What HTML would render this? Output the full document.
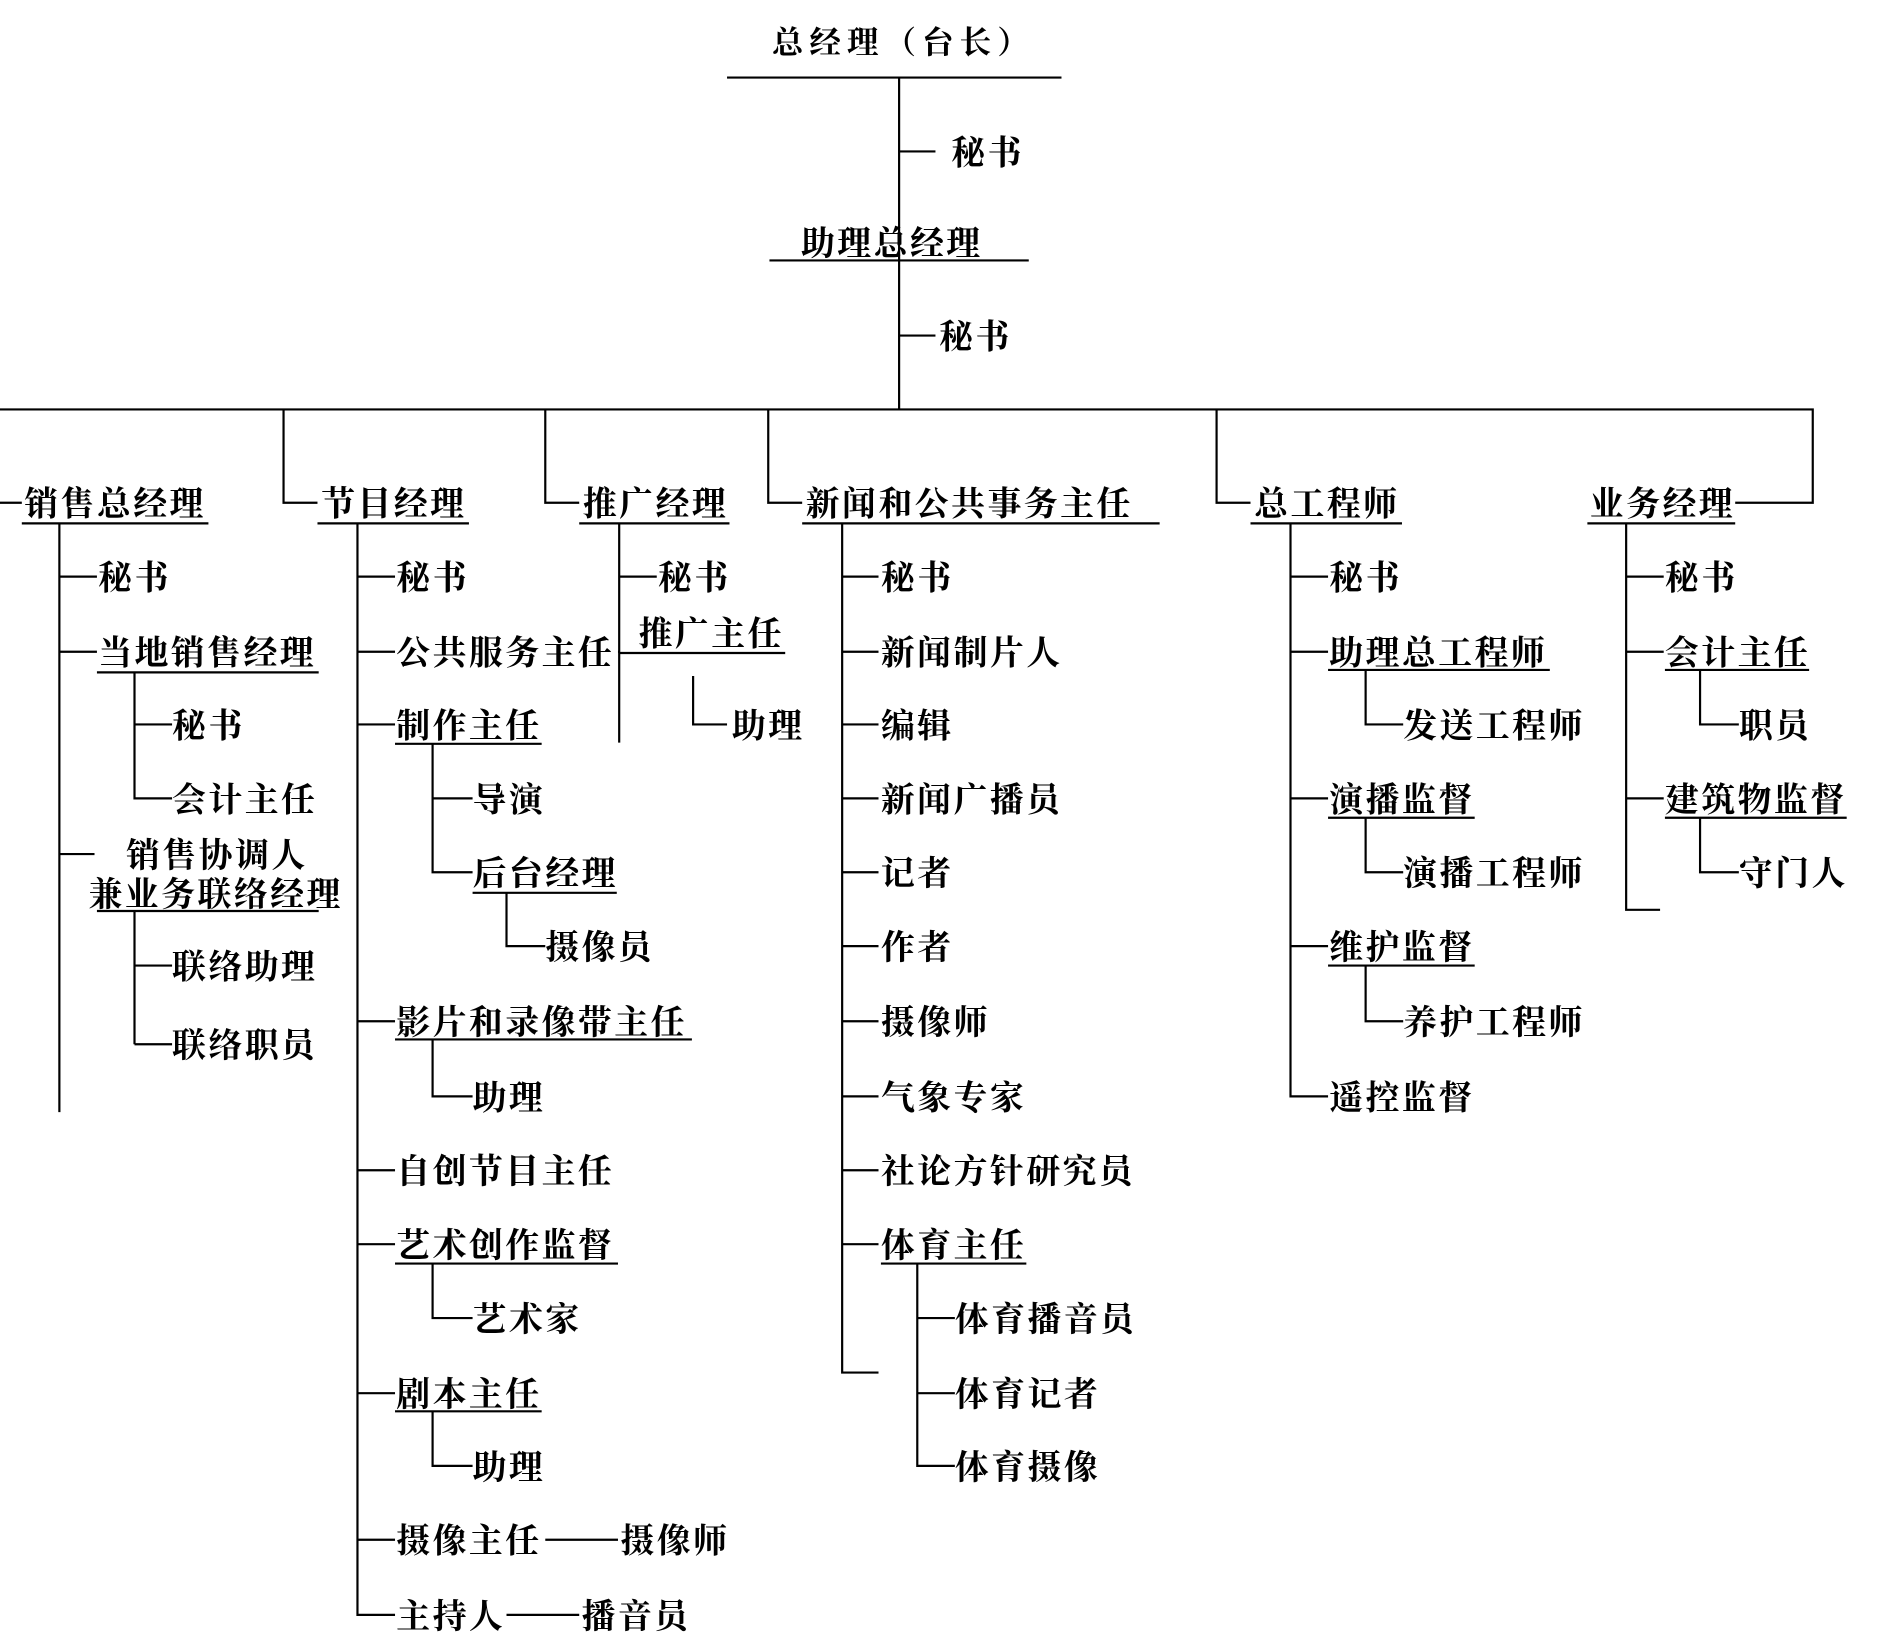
<!DOCTYPE html>
<html><head><meta charset="utf-8"><style>
html,body{margin:0;padding:0;background:#fff;width:1900px;height:1650px;overflow:hidden}
svg text{font-family:"Liberation Serif","Noto Serif CJK SC",serif;font-size:28px;letter-spacing:2px;fill:#000;dominant-baseline:central;font-weight:700}
</style></head><body>
<svg width="1900" height="1650" viewBox="0 0 1568 1362" preserveAspectRatio="none" xmlns="http://www.w3.org/2000/svg">
<g stroke="#000" stroke-width="1.8" fill="none">
<path d="M600 64H876M742 64V338M742 125H772M635 215H849M742 277H772"/>
<path d="M0 338H1496V415H1432M234 338V415H262M450 338V415H478M634 338V415H662M1004 338V415H1032M0 415H18"/>
<path d="M18 432H172M262 432H387M478 432H602M662 432H957M1032 432H1157M1310 432H1432"/>
<path d="M49 432V918M49 476H80M49 538H80M80 555H263M111 555V660M111 598H142M111 659H142M49 705H78M80 752H263M111 752V862M111 797H142M111 862H142"/>
<path d="M295 432V1333H326M295 476H326M295 538H326M510 538H511M295 598H326M326 614H447M357 614V720H390M357 659H390M390 737H509M418 737V781H450M295 843H326M326 858H571M357 858V905H390M295 966H326M295 1027H326M326 1043H510M357 1043V1088H390M295 1150H326M326 1165H447M357 1165V1210H390M295 1271H326M450 1271H510M418 1333H478"/>
<path d="M511 432V613M511 476H542M511 539H648M572 558V598H600"/>
<path d="M695 432V1133H725M695 476H725M695 538H725M695 598H725M695 659H725M695 720H725M695 781H725M695 843H725M695 905H725M695 966H725M695 1027H725M727 1043H847M757 1043V1210H788M757 1088H788M757 1150H788"/>
<path d="M1065 432V905H1096M1065 476H1096M1065 538H1096M1096 553H1279M1127 553V598H1158M1065 659H1096M1096 675H1217M1127 675V720H1158M1065 781H1096M1096 797H1217M1127 797V843H1158"/>
<path d="M1342 432V751H1370M1342 476H1373M1342 538H1373M1374 553H1493M1403 553V598H1435M1342 659H1373M1374 675H1524M1403 675V720H1435"/>
</g>
<g transform="translate(0,2)">
<text x="637" y="33" style="letter-spacing:5px;font-size:26px">总经理（台长）</text>
<text x="785" y="125">秘书</text>
<text x="661" y="200">助理总经理</text>
<text x="775" y="277">秘书</text>

<text x="20" y="415">销售总经理</text>
<text x="265" y="415">节目经理</text>
<text x="481" y="415">推广经理</text>
<text x="665" y="415">新闻和公共事务主任</text>
<text x="1035" y="415">总工程师</text>
<text x="1312" y="415">业务经理</text>

<text x="81" y="476">秘书</text>
<text x="81" y="538">当地销售经理</text>
<text x="142" y="598">秘书</text>
<text x="142" y="659">会计主任</text>
<text x="104" y="705">销售协调人</text>
<text x="73" y="737">兼业务联络经理</text>
<text x="142" y="797">联络助理</text>
<text x="142" y="862">联络职员</text>

<text x="327" y="476">秘书</text>
<text x="327" y="538">公共服务主任</text>
<text x="327" y="598">制作主任</text>
<text x="390" y="659">导演</text>
<text x="390" y="720">后台经理</text>
<text x="450" y="781">摄像员</text>
<text x="327" y="843">影片和录像带主任</text>
<text x="390" y="905">助理</text>
<text x="327" y="966">自创节目主任</text>
<text x="327" y="1027">艺术创作监督</text>
<text x="390" y="1088">艺术家</text>
<text x="327" y="1150">剧本主任</text>
<text x="390" y="1210">助理</text>
<text x="327" y="1271">摄像主任</text>
<text x="512" y="1271">摄像师</text>
<text x="327" y="1333">主持人</text>
<text x="480" y="1333">播音员</text>

<text x="543" y="476">秘书</text>
<text x="527" y="522">推广主任</text>
<text x="604" y="598">助理</text>

<text x="727" y="476">秘书</text>
<text x="727" y="538">新闻制片人</text>
<text x="727" y="598">编辑</text>
<text x="727" y="659">新闻广播员</text>
<text x="727" y="720">记者</text>
<text x="727" y="781">作者</text>
<text x="727" y="843">摄像师</text>
<text x="727" y="905">气象专家</text>
<text x="727" y="966">社论方针研究员</text>
<text x="727" y="1027">体育主任</text>
<text x="788" y="1088">体育播音员</text>
<text x="788" y="1150">体育记者</text>
<text x="788" y="1210">体育摄像</text>

<text x="1097" y="476">秘书</text>
<text x="1097" y="538">助理总工程师</text>
<text x="1158" y="598">发送工程师</text>
<text x="1097" y="659">演播监督</text>
<text x="1158" y="720">演播工程师</text>
<text x="1097" y="781">维护监督</text>
<text x="1158" y="843">养护工程师</text>
<text x="1097" y="905">遥控监督</text>

<text x="1374" y="476">秘书</text>
<text x="1374" y="538">会计主任</text>
<text x="1435" y="598">职员</text>
<text x="1374" y="659">建筑物监督</text>
<text x="1435" y="720">守门人</text>
</g>
</svg>
</body></html>
